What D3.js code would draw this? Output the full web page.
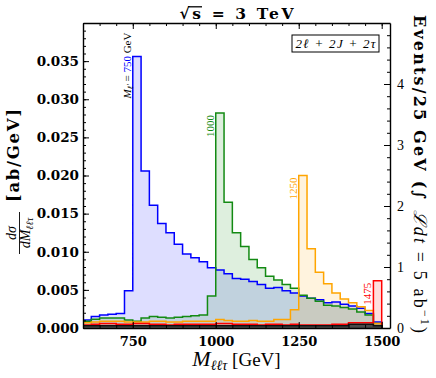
<!DOCTYPE html>
<html><head><meta charset="utf-8">
<script src="https://cdn.jsdelivr.net/npm/d3@7"></script>
<style>body{margin:0;background:#fff}</style>
</head><body>
<script>
// bin low edges, 25 GeV bins
const binLow = d3.range(600, 1500, 25);

const sig750 = [0.00105,0.0015,0.0017,0.0018,0.0019,0.0049,0.0356,0.0206,0.0161,0.0137,0.0125,0.0110,
  0.0097,0.0092,0.0087,0.0079,0.0076,0.0071,0.0065,0.0064,0.0061,0.0057,0.0052,0.0053,
  0.0049,0.0046,0.0042,0.0039,0.0037,0.0033,0.0034,0.0031,0.0029,0.0026,0.0019,0.0008];
const sig1000 = [0.0009,0.00115,0.0013,0.0013,0.0013,0.00105,0.0009,0.0013,0.0015,0.0014,0.0013,0.0014,
  0.0015,0.0016,0.0017,0.0042,0.0282,0.0165,0.0125,0.0107,0.0090,0.0079,0.0068,0.0063,
  0.0057,0.0052,0.0043,0.0039,0.0035,0.0030,0.0029,0.0027,0.0025,0.0021,0.0017,0.0006];
const sig1250 = [0.0007,0.0008,0.0009,0.0009,0.0009,0.0008,0.0008,0.0008,0.0009,0.0009,0.0008,0.0008,
  0.0009,0.0009,0.0009,0.0009,0.0011,0.0010,0.0009,0.0009,0.0010,0.0009,0.0009,0.0011,
  0.0011,0.0024,0.0200,0.0104,0.0073,0.0058,0.0046,0.0038,0.0033,0.0028,0.0023,0.0006];
const sig1475 = [0.0004,0.0005,0.0006,0.0006,0.0005,0.0005,0.0006,0.0006,0.0005,0.0005,0.0004,0.0005,
  0.0005,0.0005,0.0005,0.0005,0.0006,0.0006,0.0005,0.0005,0.0005,0.0004,0.0005,0.0005,
  0.0004,0.0005,0.0004,0.0004,0.0004,0.0004,0.0005,0.0005,0.0007,0.0007,0.0007,0.0062];
const bkg = [0.0003,0.0003,0.0003,0.0003,0.0003,0.0003,0.0003,0.0003,0.0003,0.0003,0.0003,0.0003,
  0.0003,0.0003,0.0003,0.0003,0.0003,0.0003,0.0003,0.0003,0.0003,0.0003,0.0003,0.0003,
  0.0003,0.0003,0.0003,0.0003,0.0003,0.0003,0.0003,0.0003,0.0005,0.0005,0.0005,0.0003];

const leftTicks = [0, 0.005, 0.010, 0.015, 0.020, 0.025, 0.030, 0.035];
const rightTicks = [0, 1, 2, 3, 4];
const xTicks = [750, 1000, 1250, 1500];

const width = 436, height = 378;
const margin = {top: 23, right: 46, bottom: 50, left: 83};

const x = d3.scaleLinear().domain([600, 1525]).range([margin.left, width - margin.right]);
const y = d3.scaleLinear().domain([0, 0.04]).range([height - margin.bottom, margin.top]);
const yR = d3.scaleLinear().domain([0, 5]).range([height - margin.bottom, margin.top]);

const svg = d3.select("body").append("svg")
    .attr("width", width).attr("height", height)
    .attr("viewBox", [0, 0, width, height]);

svg.append("clipPath").attr("id", "clip")
  .append("rect")
    .attr("x", margin.left).attr("y", margin.top)
    .attr("width", width - margin.left - margin.right)
    .attr("height", height - margin.top - margin.bottom);

const stepPts = vals => {
  const p = [[600, 0]];
  vals.forEach((v, i) => { p.push([binLow[i], v], [binLow[i] + 25, v]); });
  p.push([1500, 0]);
  return p;
};
const line = d3.line().x(d => x(d[0])).y(d => y(d[1]));

const series = [
  {vals: sig750, color: "#0000ff", fill: "#0000ff", op: 0.13},
  {vals: sig1000, color: "#138a13", fill: "#008000", op: 0.13},
  {vals: sig1250, color: "#ffa500", fill: "#ffa500", op: 0.13},
  {vals: sig1475, color: "#ff0000", fill: "#ff0000", op: 0.13},
  {vals: bkg, color: "#111", fill: "#4a4a4a", op: 1}
];

const gh = svg.append("g").attr("clip-path", "url(#clip)");
gh.selectAll("path.fill")
  .data(series)
  .join("path")
    .attr("class", "fill")
    .attr("d", d => line(stepPts(d.vals)) + "Z")
    .attr("fill", d => d.fill)
    .attr("fill-opacity", d => d.op)
    .attr("stroke", "none");
gh.selectAll("path.edge")
  .data(series)
  .join("path")
    .attr("class", "edge")
    .attr("d", d => line(stepPts(d.vals)))
    .attr("fill", "none")
    .attr("stroke", d => d.color)
    .attr("stroke-width", 1.5);

// axes
const bold = g => g.selectAll("text")
    .attr("font-family", "DejaVu Serif").attr("font-weight", "bold")
    .attr("font-size", 13.5).attr("fill", "#000");

svg.append("g")
    .attr("transform", `translate(${margin.left},0)`)
    .call(d3.axisLeft(y).tickValues(d3.range(0, 0.0401, 0.001)).tickSize(-3).tickFormat(""))
    .call(g => g.select(".domain").remove());
svg.append("g")
    .attr("transform", `translate(${margin.left},0)`)
    .call(d3.axisLeft(y).tickValues(leftTicks).tickFormat(d3.format(".3f")).tickSize(-6).tickPadding(4).tickSizeOuter(0))
    .call(bold);

svg.append("g")
    .attr("transform", `translate(${width - margin.right},0)`)
    .call(d3.axisRight(yR).tickValues(d3.range(0, 5.01, 0.2)).tickSize(-3).tickFormat(""))
    .call(g => g.select(".domain").remove());
svg.append("g")
    .attr("transform", `translate(${width - margin.right},0)`)
    .call(d3.axisRight(yR).tickValues(rightTicks).tickFormat(d3.format("d")).tickSize(-6).tickPadding(7).tickSizeOuter(0))
    .call(g => g.selectAll("text").attr("font-family", "Liberation Serif").attr("font-size", 14).attr("fill", "#000"));

const xb = height - margin.bottom;
svg.append("g")
    .attr("transform", `translate(0,${xb})`)
    .call(d3.axisBottom(x).tickValues(d3.range(600, 1525, 50)).tickSize(-3).tickFormat(""))
    .call(g => g.select(".domain").remove());
svg.append("g")
    .attr("transform", `translate(0,${xb})`)
    .call(d3.axisBottom(x).tickValues(xTicks).tickFormat(d3.format("d")).tickSize(-6).tickPadding(9).tickSizeOuter(0))
    .call(bold)
    .call(g => g.selectAll("text").attr("font-size", 13));
svg.append("g")
    .attr("transform", `translate(0,${margin.top})`)
    .call(d3.axisTop(x).tickValues(d3.range(600, 1525, 50)).tickSize(-3).tickFormat(""))
    .call(g => g.select(".domain").remove());
svg.append("g")
    .attr("transform", `translate(0,${margin.top})`)
    .call(d3.axisTop(x).tickValues(xTicks).tickSize(-6).tickFormat("").tickSizeOuter(0));

svg.selectAll(".domain").attr("stroke-width", 1.4);
svg.selectAll(".tick line").attr("stroke-width", 1);

// title
const title = svg.append("text")
    .attr("x", (margin.left + width - margin.right) / 2).attr("y", 19)
    .attr("text-anchor", "middle")
    .attr("font-family", "DejaVu Serif").attr("font-weight", "bold").attr("font-size", 15.5)
    .attr("textLength", 114).attr("lengthAdjust", "spacing")
    .text("√s = 3 TeV");
{
  const n = title.node();
  const e0 = n.getExtentOfChar(0), e1 = n.getExtentOfChar(1);
  svg.append("line")
      .attr("x1", e0.x + e0.width - 1.5).attr("x2", e1.x + e1.width + 1)
      .attr("y1", e0.y + 2.8).attr("y2", e0.y + 2.8)
      .attr("stroke", "#000").attr("stroke-width", 1.3);
}

// channel box
svg.append("rect").attr("x", 292).attr("y", 35).attr("width", 87).attr("height", 17)
    .attr("fill", "#fff").attr("stroke", "#000").attr("stroke-width", 1);
svg.append("text").attr("x", 335.5).attr("y", 48).attr("text-anchor", "middle")
    .attr("font-family", "Liberation Serif").attr("font-style", "italic").attr("font-size", 13)
    .attr("textLength", 80).attr("lengthAdjust", "spacing")
    .text("2ℓ + 2J + 2τ");

// x label
const xl = svg.append("text").attr("x", (margin.left + width - margin.right) / 2).attr("y", 366)
    .attr("text-anchor", "middle").attr("font-family", "Liberation Serif").attr("font-size", 19);
xl.append("tspan").attr("font-style", "italic").attr("font-size", 22).text("M");
xl.append("tspan").attr("font-style", "italic").attr("font-size", 14).attr("dy", 4).text("ℓℓτ");
xl.append("tspan").attr("dy", -4).text(" [GeV]");

// left y label
const yl = svg.append("g").attr("transform", "rotate(-90)")
    .attr("font-family", "Liberation Serif");
yl.append("text").attr("x", -233).attr("y", 16).attr("text-anchor", "middle")
    .attr("font-style", "italic").attr("font-size", 14).text("dσ");
yl.append("line").attr("x1", -254).attr("x2", -212).attr("y1", 19.5).attr("y2", 19.5)
    .attr("stroke", "#000").attr("stroke-width", 0.9);
const den = yl.append("text").attr("x", -233).attr("y", 30).attr("text-anchor", "middle")
    .attr("font-style", "italic").attr("font-size", 14);
den.append("tspan").text("dM");
den.append("tspan").attr("font-size", 10).attr("dy", 3).text("ℓℓτ");
yl.append("text").attr("x", -202).attr("y", 19).attr("text-anchor", "start")
    .attr("font-family", "DejaVu Serif").attr("font-weight", "bold").attr("font-size", 16.5)
    .attr("textLength", 93).attr("lengthAdjust", "spacing")
    .text("[ab/GeV]");

// right y label
const yr = svg.append("text").attr("transform", "translate(414,174) rotate(90)")
    .attr("text-anchor", "middle").attr("font-family", "DejaVu Serif")
    .attr("font-weight", "bold").attr("font-size", 16)
    .attr("textLength", 318).attr("lengthAdjust", "spacing");
yr.append("tspan").text("Events/25 GeV (∫ ");
yr.append("tspan").attr("font-family", "Liberation Serif").attr("font-style", "italic").attr("font-weight", "normal").attr("font-size", 18).text("ℒdt");
yr.append("tspan").attr("font-family", "Liberation Serif").attr("font-weight", "normal").attr("font-size", 18).text(" = 5 ab");
yr.append("tspan").attr("font-family", "Liberation Serif").attr("font-weight", "normal").attr("font-size", 12).attr("dy", -7).text("−1");
yr.append("tspan").attr("font-family", "Liberation Serif").attr("font-weight", "normal").attr("font-size", 18).attr("dy", 7).text(")");

// peak labels
const peaks = [
  {mass: 1000, val: d3.max(sig1000), color: "#138a13"},
  {mass: 1250, val: d3.max(sig1250), color: "#ffa500"},
  {mass: 1475, val: d3.max(sig1475), color: "#ff0000"}
];
svg.selectAll("text.peak")
  .data(peaks)
  .join("text")
    .attr("class", "peak")
    .attr("transform", d => `translate(${x(d.mass) - 2},${y(d.val) + 2}) rotate(-90)`)
    .attr("text-anchor", "end")
    .attr("font-family", "Liberation Serif").attr("font-size", 11)
    .attr("fill", d => d.color)
    .text(d => d.mass);

const l750 = svg.append("text")
    .attr("transform", `translate(${x(750) - 2},${y(d3.max(sig750)) - 24}) rotate(-90)`)
    .attr("text-anchor", "end")
    .attr("font-family", "Liberation Serif").attr("font-size", 11).attr("fill", "#000");
l750.append("tspan").attr("font-style", "italic").text("M");
l750.append("tspan").attr("font-style", "italic").attr("font-size", 8).attr("dy", 2).text("ℓ′");
l750.append("tspan").attr("dy", -2).text(" = ");
l750.append("tspan").attr("fill", "#0000ff").text("750");
l750.append("tspan").text(" GeV");
</script>
</body></html>
